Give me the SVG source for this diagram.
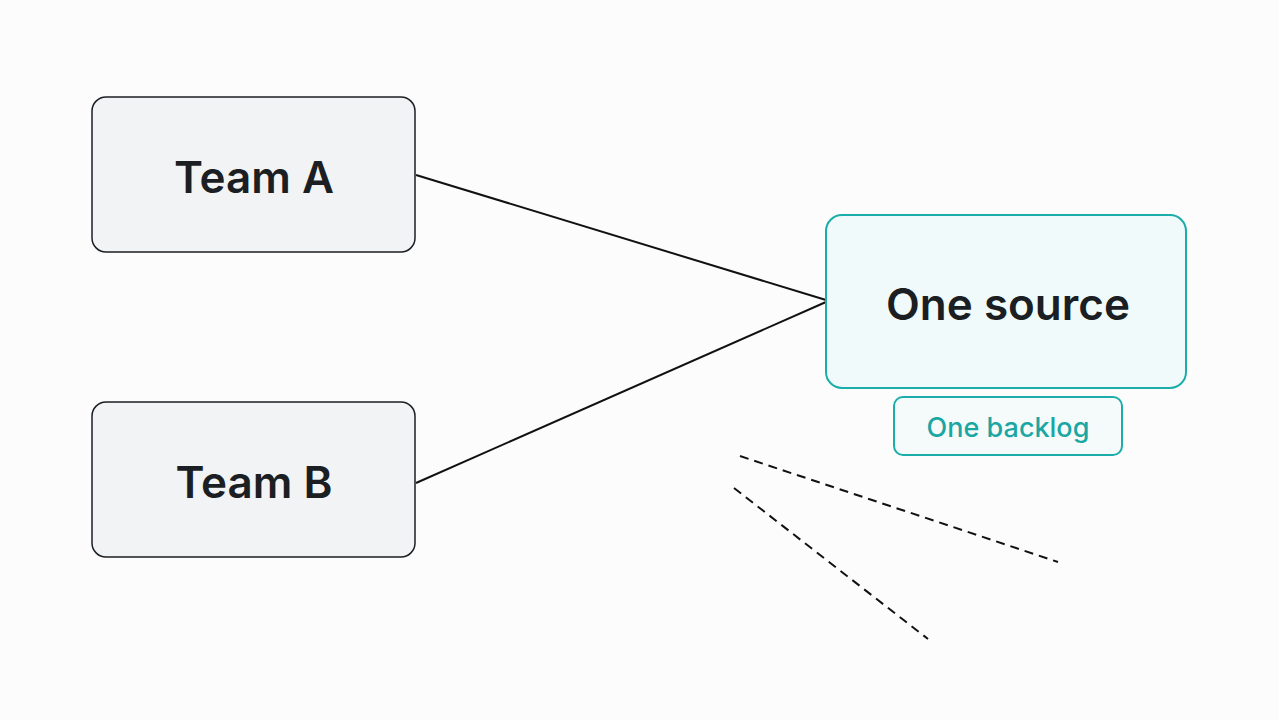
<svg xmlns="http://www.w3.org/2000/svg" width="1279" height="720" viewBox="0 0 1279 720">
<style>
.team rect{fill:#f2f3f4;stroke:#1b1e22;stroke-width:1.5}
.t{font-family:Inter,"Noto Sans",sans-serif;font-weight:600;fill:#1b1e22;text-anchor:middle}
.con line{stroke:#111;stroke-width:2;fill:none}
.con .d{stroke-dasharray:9 6}
</style>
<rect width="1279" height="720" fill="#fcfcfc"/>
<g class="con">
<line x1="416" y1="175" x2="826" y2="300"/>
<line x1="416" y1="483" x2="826" y2="302"/>
<line class="d" x1="740" y1="456" x2="1058" y2="562"/>
<line class="d" x1="734" y1="488" x2="928" y2="639"/>
</g>
<g id="teamA" class="team"><rect x="92" y="97" width="323" height="155" rx="14"/><text class="t" x="254" y="193" font-size="44">Team A</text></g>
<g id="teamB" class="team"><rect x="92" y="402" width="323" height="155" rx="14"/><text class="t" x="254" y="498" font-size="44">Team B</text></g>
<g id="source"><rect x="826" y="215" width="360" height="173" rx="16" fill="#f1fafa" stroke="#1aadaa" stroke-width="2"/><text class="t" x="1008" y="320" font-size="44">One source</text></g>
<g id="backlog"><rect x="894" y="397" width="228" height="58" rx="9" fill="#f5fbfb" stroke="#1aadaa" stroke-width="2"/><text class="t" x="1008" y="437" font-size="27" style="fill:#1aa7a4;font-weight:500">One backlog</text></g>
</svg>
